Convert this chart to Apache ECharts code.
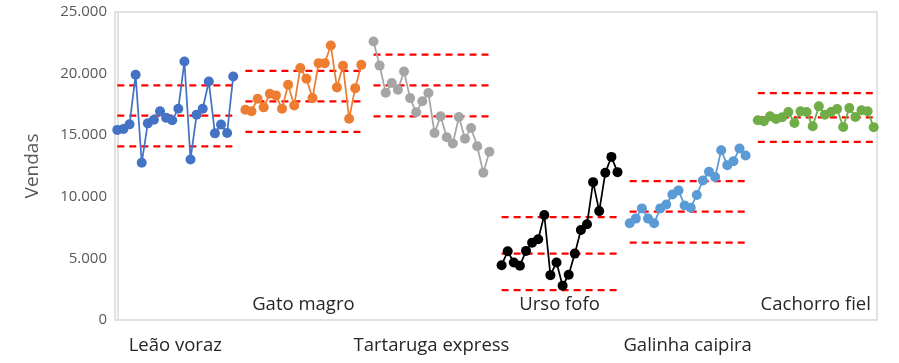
<!DOCTYPE html>
<html><head><meta charset="utf-8">
<script src="https://cdn.jsdelivr.net/npm/echarts@6/dist/echarts.min.js"></script>
<style>html,body{margin:0;padding:0;background:#fff}#c{width:899px;height:363px}</style>
</head><body><div id="c"></div>
<script>
const groups = ['Leão voraz','Gato magro','Tartaruga express','Urso fofo','Galinha caipira','Cachorro fiel'];
const colors = ['#4472C4','#ED7D31','#A5A5A5','#000000','#5B9BD5','#70AD47'];
const leao = [15430,15510,15880,19900,12760,15960,16260,16940,16420,16210,17150,20980,13030,16670,17150,19360,15150,15860,15180,19770];
const gato = [17070,16940,17960,17260,18360,18230,17150,19090,17420,20450,19580,18010,20850,20850,22280,18880,20630,16340,18820,20710];
const tartaruga = [22600,20650,18450,19230,18690,20170,18010,16860,17750,18420,15180,16530,14830,14320,16480,14720,15590,14100,11950,13650];
const urso = [4450,5580,4670,4400,5610,6280,6550,8520,3640,4670,2780,3670,5390,7310,7770,11190,8840,11950,13240,12000];
const galinha = [7850,8230,9060,8230,7850,9060,9380,10190,10520,9300,9120,10140,11330,12030,11600,13780,12570,12890,13920,13350];
const cachorro = [16210,16130,16530,16320,16450,16880,15990,16940,16880,15720,17340,16670,16880,17120,15670,17200,16480,17020,16940,15640];
const seriesValues = [leao,gato,tartaruga,urso,galinha,cachorro];
// control lines per group: [upper, center, lower]
const limits = [
  [19040,16590,14100],
  [20230,17750,15270],
  [21550,19040,16530],
  [8360,5390,2430],
  [11270,8790,6280],
  [18420,16450,14450]
];
const yTicks = [0,5000,10000,15000,20000,25000];

const slot = 21;
const centers = groups.map((g,i)=>i*slot+9.5);
const series = [];
seriesValues.forEach((vals,g)=>{
  series.push({
    type:'line', xAxisIndex:0,
    data: vals.map((v,i)=>[g*slot+i, v]),
    symbol:'circle', symbolSize:10,
    itemStyle:{color:colors[g]},
    lineStyle:{color:colors[g], width:1.75},
    z:3, animation:false
  });
});
limits.forEach((lims,g)=>{
  lims.forEach(v=>{
    series.push({
      type:'line', xAxisIndex:0,
      data:[[g*slot, v],[g*slot+19, v]],
      symbol:'none',
      lineStyle:{color:'#FF0000', width:2.25, type:[7,5]},
      z:2, animation:false
    });
  });
});
function nameFor(v){
  const idx = centers.findIndex(c=>Math.abs(c-v)<0.01);
  return idx>=0 ? groups[idx] : '';
}
const chart = echarts.init(document.getElementById('c'));
chart.setOption({
  animation:false,
  grid:{left:115, top:12, right:22, bottom:43, show:true, borderColor:'#D9D9D9', borderWidth:1.5},
  xAxis:[{
    type:'value', min:-0.38, max:124.54, position:'bottom',
    axisLine:{show:false}, axisTick:{show:false}, splitLine:{show:false},
    axisLabel:{customValues:centers.filter((c,i)=>i%2===0), formatter:nameFor, margin:16,
      fontFamily:'Open Sans', fontSize:18.5, color:'#262626'}
  },{
    type:'value', min:-0.38, max:124.54, position:'bottom',
    axisLine:{show:false}, axisTick:{show:false}, splitLine:{show:false},
    axisLabel:{inside:true, customValues:centers.filter((c,i)=>i%2===1), formatter:nameFor, margin:6,
      fontFamily:'Open Sans', fontSize:18.5, color:'#262626'}
  }],
  yAxis:{
    type:'value', min:0, max:25000, interval:5000,
    name:'Vendas', nameLocation:'middle', nameGap:73,
    nameTextStyle:{fontFamily:'Open Sans', fontSize:19, color:'#595959'},
    axisLine:{show:true, lineStyle:{color:'#D9D9D9', width:1.5}},
    axisTick:{show:false}, splitLine:{show:false},
    axisLabel:{margin:8, fontFamily:'Open Sans', fontSize:15, color:'#595959',
      formatter:v=>yTicks.includes(v)? (v===0?'0':v.toLocaleString('de-DE')) : ''}
  },
  series
});
</script></body></html>
